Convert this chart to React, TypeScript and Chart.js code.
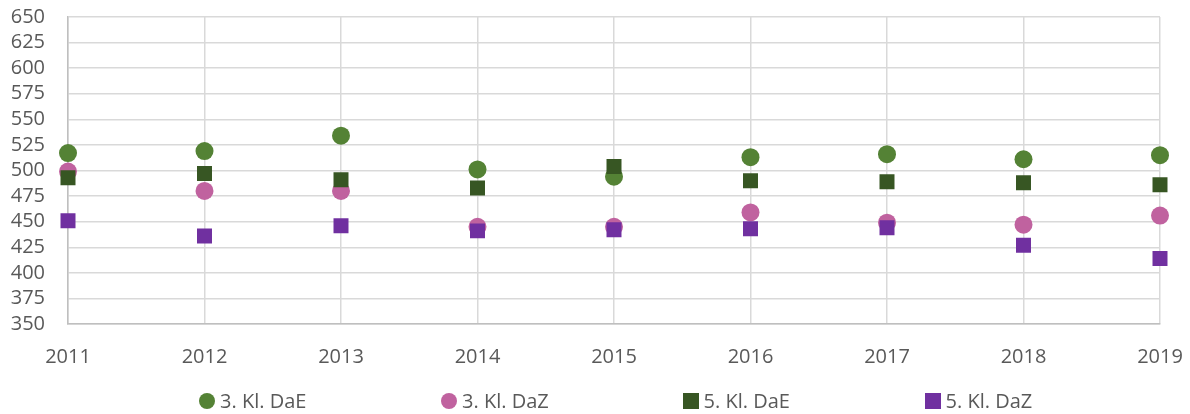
import React, { useEffect, useRef } from "react";
import { Chart, registerables } from "chart.js";

Chart.register(...registerables);

const years = ["2011", "2012", "2013", "2014", "2015", "2016", "2017", "2018", "2019"];
const kl3DaE = [517, 519, 534, 501, 494, 513, 516, 511, 515];
const kl3DaZ = [499, 480, 480, 445, 445, 459, 449, 447, 456];
const kl5DaE = [493, 497, 491, 483, 504, 490, 489, 488, 486];
const kl5DaZ = [451, 436, 446, 441, 442, 443, 444, 427, 414];

const seriesNames = ["3. Kl. DaE", "3. Kl. DaZ", "5. Kl. DaE", "5. Kl. DaZ"];
const seriesColors = ["#548235", "#C0629F", "#375623", "#7030A0"];
const seriesShapes = ["circle", "circle", "rect", "rect"];

const FONT = "'Open Sans', sans-serif";
const TEXT = "#595959";

export default function App() {
  const ref = useRef<HTMLCanvasElement | null>(null);

  useEffect(() => {
    if (!ref.current) return;
    const values = [kl3DaE, kl3DaZ, kl5DaE, kl5DaZ];
    const chart = new Chart(ref.current, {
      type: "line",
      data: {
        labels: years,
        datasets: values.map((v, i) => ({
          label: seriesNames[i],
          data: v,
          showLine: false,
          pointStyle: seriesShapes[i] as any,
          pointRadius: seriesShapes[i] === "circle" ? 9 : 10.6,
          pointBackgroundColor: seriesColors[i],
          pointBorderColor: seriesColors[i],
          pointBorderWidth: 0,
          backgroundColor: seriesColors[i],
          borderColor: seriesColors[i],
          order: 4 - i,
        })),
      },
      options: {
        animation: false,
        responsive: false,
        layout: { padding: { left: 0, right: 30, top: 17, bottom: 40 } },
        plugins: { legend: { display: false }, tooltip: { enabled: false } },
        scales: {
          x: {
            type: "category",
            offset: false,
            grid: { color: "#D9D9D9", lineWidth: 1.5, drawTicks: false, offset: false },
            border: { color: "#BFBFBF", width: 1.5 },
            ticks: { color: TEXT, font: { family: FONT, size: 20 }, padding: 21, maxRotation: 0, autoSkip: false },
            afterFit: (s: any) => {
              s.height = 50;
              s.paddingLeft = 0;
              s.paddingRight = 0;
            },
          },
          y: {
            min: 350,
            max: 650,
            grid: { color: "#D9D9D9", lineWidth: 1.5, drawTicks: false },
            border: { color: "#BFBFBF", width: 1.5 },
            ticks: { stepSize: 25, color: TEXT, font: { family: FONT, size: 20 }, padding: 23, autoSkip: false },
            afterFit: (s: any) => {
              s.width = 68;
              s.paddingTop = 0;
              s.paddingBottom = 0;
            },
          },
        },
      },
    });
    return () => chart.destroy();
  }, []);

  return (
    <div style={{ position: "fixed", left: 0, top: 0, width: 1190, height: 414, background: "#fff" }}>
      <canvas ref={ref} width={1190} height={414} style={{ display: "block" }} />
      <div
        style={{
          position: "absolute",
          left: 199,
          top: 389,
          display: "flex",
          fontFamily: FONT,
          fontSize: 20,
          lineHeight: "24px",
          color: TEXT,
          whiteSpace: "nowrap",
        }}
      >
        {seriesNames.map((name, i) => (
          <div key={name} style={{ width: 242, display: "flex", alignItems: "center" }}>
            <span
              style={{
                display: "inline-block",
                width: seriesShapes[i] === "circle" ? 16 : 15.5,
                height: seriesShapes[i] === "circle" ? 16 : 15.5,
                borderRadius: seriesShapes[i] === "circle" ? "50%" : 0,
                background: seriesColors[i],
                marginRight: 5,
              }}
            />
            <span>{name}</span>
          </div>
        ))}
      </div>
    </div>
  );
}
